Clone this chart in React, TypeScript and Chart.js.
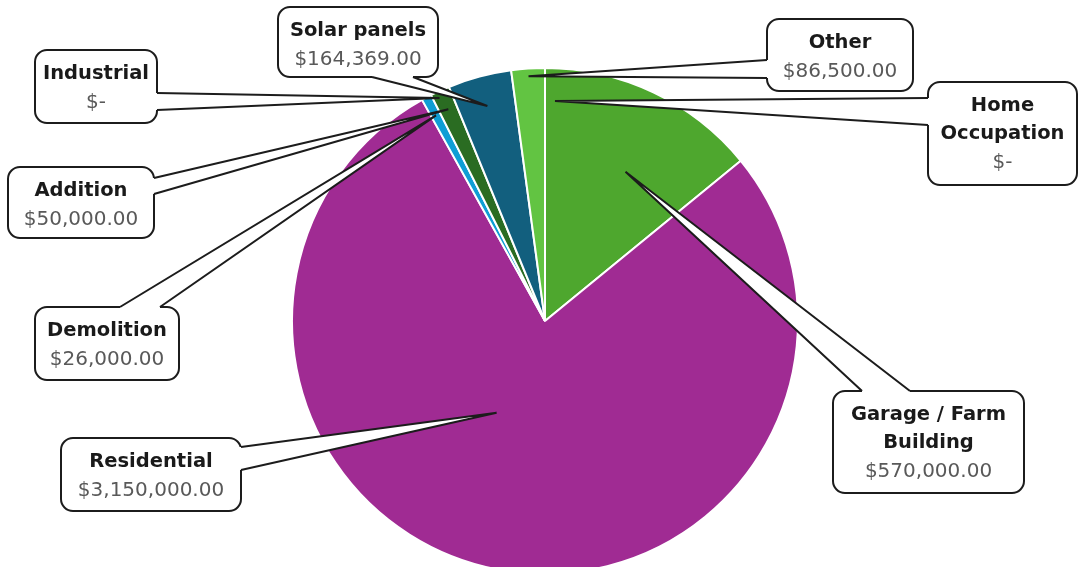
import React, { useEffect, useRef } from 'react';
import { Chart, registerables } from 'chart.js';

Chart.register(...registerables);

// ---- data ----
const categories = [
  'Garage / Farm Building',
  'Residential',
  'Demolition',
  'Addition',
  'Industrial',
  'Solar panels',
  'Other',
  'Home Occupation',
];
const values = [570000, 3150000, 26000, 50000, 0, 164369, 86500, 0];
const labelLines = [
  ['Garage / Farm', 'Building'],
  ['Residential'],
  ['Demolition'],
  ['Addition'],
  ['Industrial'],
  ['Solar panels'],
  ['Other'],
  ['Home', 'Occupation'],
];
const sliceColors = [
  '#4EA72E',
  '#A02B93',
  '#0F9ED5',
  '#2A6C22',
  '#2A6C22',
  '#125F7E',
  '#62C442',
  '#999999',
];

// ---- callout layout (box geometry, tail base, tip placement relative to slice) ----
const callouts = [
  { x: 833, y: 391, w: 191, h: 102, side: 'top', b1: 862, b2: 910, dAng: 3, rf: 0.67 },
  { x: 61, y: 438, w: 180, h: 73, side: 'right', b1: 447, b2: 470, dAng: 17, rf: 0.41 },
  { x: 35, y: 307, w: 144, h: 73, side: 'top', b1: 120, b2: 160, dAng: 0, rf: 0.92 },
  { x: 8, y: 167, w: 146, h: 71, side: 'right', b1: 178, b2: 194, dAng: 0, rf: 0.92 },
  { x: 35, y: 50, w: 122, h: 73, side: 'right', b1: 93, b2: 110, dAng: -3, rf: 0.975 },
  { x: 278, y: 7, w: 160, h: 70, side: 'bottom', b1: 372, b2: 413, dAng: 0, rf: 0.88 },
  { x: 767, y: 19, w: 146, h: 72, side: 'left', b1: 60, b2: 78, dAng: 0, rf: 0.97 },
  { x: 928, y: 82, w: 149, h: 103, side: 'left', b1: 98, b2: 125, dAng: 2.6, rf: 0.87 },
];

function fmtMoney(v: number): string {
  if (v === 0) return '$-';
  return '$' + v.toLocaleString('en-US', { minimumFractionDigits: 2, maximumFractionDigits: 2 });
}

function roundRectPath(ctx: CanvasRenderingContext2D, x: number, y: number, w: number, h: number, r: number) {
  ctx.beginPath();
  ctx.moveTo(x + r, y);
  ctx.lineTo(x + w - r, y);
  ctx.arcTo(x + w, y, x + w, y + r, r);
  ctx.lineTo(x + w, y + h - r);
  ctx.arcTo(x + w, y + h, x + w - r, y + h, r);
  ctx.lineTo(x + r, y + h);
  ctx.arcTo(x, y + h, x, y + h - r, r);
  ctx.lineTo(x, y + r);
  ctx.arcTo(x, y, x + r, y, r);
  ctx.closePath();
}

const calloutPlugin = {
  id: 'callouts',
  afterDatasetsDraw(chart: any) {
    const ctx: CanvasRenderingContext2D = chart.ctx;
    const meta = chart.getDatasetMeta(0);
    ctx.save();
    callouts.forEach((c, i) => {
      const arc = meta.data[i];
      if (!arc) return;
      const p = arc.getProps(['x', 'y', 'startAngle', 'endAngle', 'outerRadius'], true);
      const ang = (p.startAngle + p.endAngle) / 2 + (c.dAng * Math.PI) / 180;
      const tx = p.x + Math.cos(ang) * p.outerRadius * c.rf;
      const ty = p.y + Math.sin(ang) * p.outerRadius * c.rf;

      let e1: [number, number], e2: [number, number], i1: [number, number], i2: [number, number];
      const inset = 3;
      if (c.side === 'top') {
        e1 = [c.b1, c.y]; e2 = [c.b2, c.y];
        i1 = [c.b1, c.y + inset]; i2 = [c.b2, c.y + inset];
      } else if (c.side === 'bottom') {
        e1 = [c.b1, c.y + c.h]; e2 = [c.b2, c.y + c.h];
        i1 = [c.b1, c.y + c.h - inset]; i2 = [c.b2, c.y + c.h - inset];
      } else if (c.side === 'left') {
        e1 = [c.x, c.b1]; e2 = [c.x, c.b2];
        i1 = [c.x + inset, c.b1]; i2 = [c.x + inset, c.b2];
      } else {
        e1 = [c.x + c.w, c.b1]; e2 = [c.x + c.w, c.b2];
        i1 = [c.x + c.w - inset, c.b1]; i2 = [c.x + c.w - inset, c.b2];
      }

      // box
      roundRectPath(ctx, c.x, c.y, c.w, c.h, 12);
      ctx.fillStyle = '#ffffff';
      ctx.fill();
      ctx.lineWidth = 2;
      ctx.strokeStyle = '#1c1c1c';
      ctx.stroke();

      // tail
      ctx.beginPath();
      ctx.moveTo(i1[0], i1[1]);
      ctx.lineTo(e1[0], e1[1]);
      ctx.lineTo(tx, ty);
      ctx.lineTo(e2[0], e2[1]);
      ctx.lineTo(i2[0], i2[1]);
      ctx.closePath();
      ctx.fillStyle = '#ffffff';
      ctx.fill();
      ctx.beginPath();
      ctx.moveTo(e1[0], e1[1]);
      ctx.lineTo(tx, ty);
      ctx.lineTo(e2[0], e2[1]);
      ctx.lineJoin = 'miter';
      ctx.stroke();

      // text
      const cx = c.x + c.w / 2;
      const lines = labelLines[i];
      ctx.textAlign = 'center';
      ctx.textBaseline = 'middle';
      lines.forEach((ln, k) => {
        ctx.font = 'bold 19.5px "DejaVu Sans"';
        ctx.fillStyle = '#1a1a1a';
        ctx.fillText(ln, cx, c.y + 24 + 28 * k);
      });
      ctx.font = '20px "DejaVu Sans"';
      ctx.fillStyle = '#595959';
      ctx.fillText(fmtMoney(values[i]), cx, c.y + 25 + 28 * lines.length);
    });
    ctx.restore();
  },
};

export default function App() {
  const ref = useRef<HTMLCanvasElement>(null);
  useEffect(() => {
    const chart = new Chart(ref.current as HTMLCanvasElement, {
      type: 'pie',
      data: {
        labels: categories,
        datasets: [
          {
            data: values,
            backgroundColor: sliceColors,
            borderColor: '#ffffff',
            borderWidth: 2,
          },
        ],
      },
      options: {
        responsive: true,
        maintainAspectRatio: false,
        animation: false,
        layout: { padding: { left: 12, right: 0, top: 67, bottom: 25 } },
        plugins: {
          legend: { display: false },
          tooltip: { enabled: false },
        },
      },
      plugins: [calloutPlugin],
    } as any);
    return () => chart.destroy();
  }, []);
  return (
    <div
      style={{
        position: 'fixed',
        left: 0,
        top: 0,
        width: 1078,
        height: 567,
        overflow: 'hidden',
        background: '#ffffff',
      }}
    >
      <div style={{ position: 'relative', width: 1078, height: 600 }}>
        <canvas ref={ref} />
      </div>
    </div>
  );
}
